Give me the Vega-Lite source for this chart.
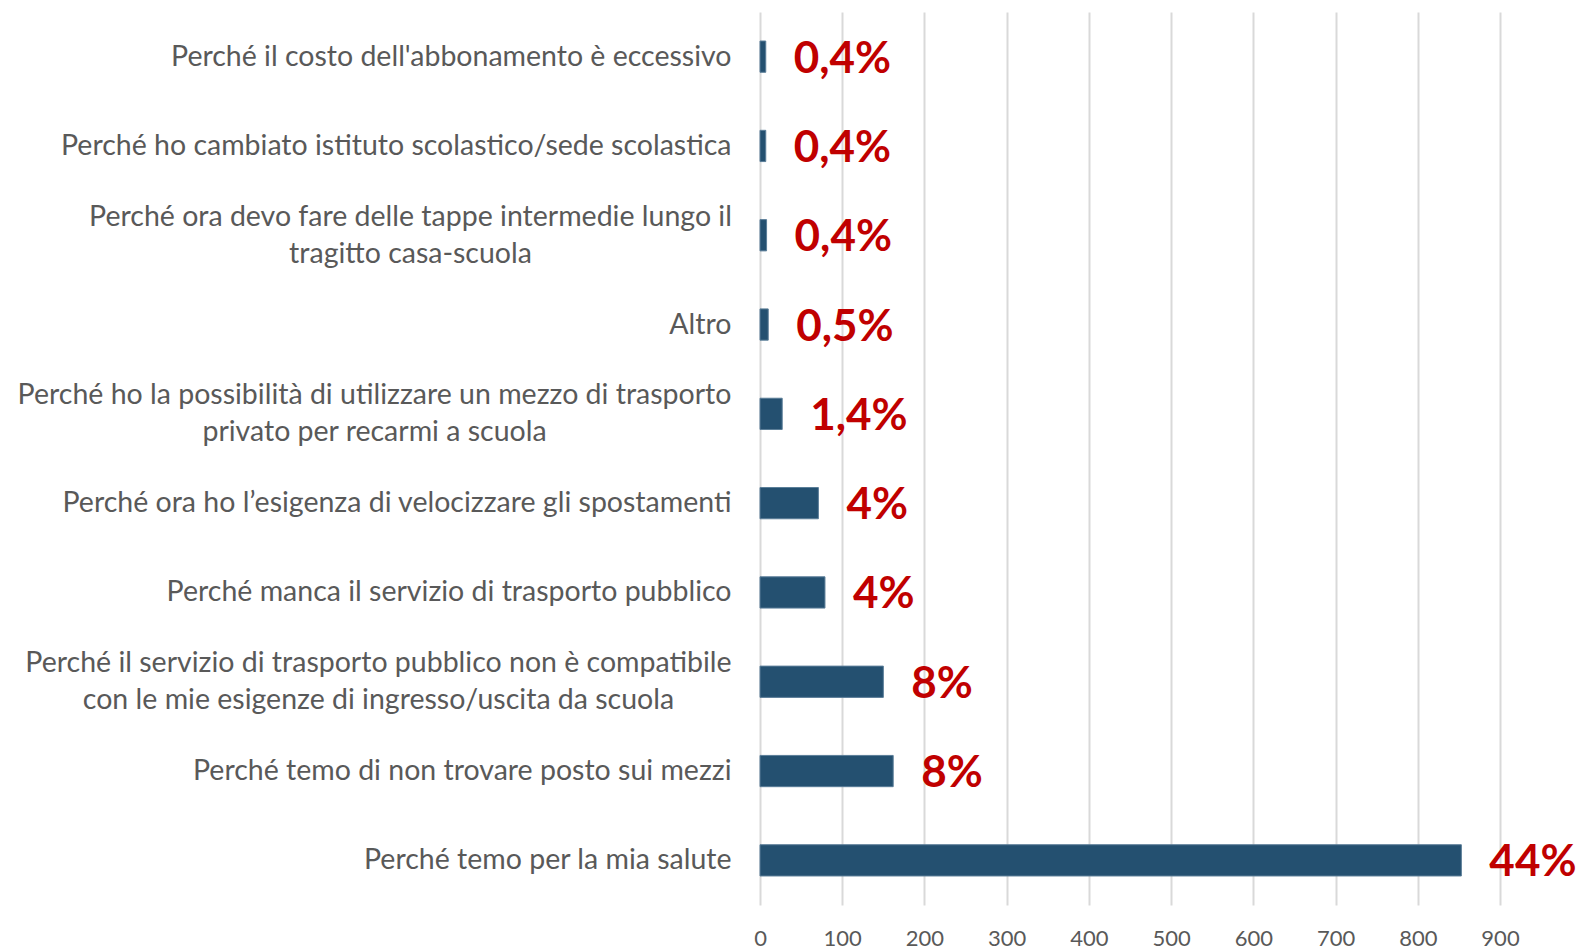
{
  "$schema": "https://vega.github.io/schema/vega-lite/v6.json",
  "width": 740,
  "height": 893,
  "autosize": {"type": "none"},
  "padding": {"left": 760, "top": 12, "right": 78, "bottom": 45},
  "background": "white",
  "config": {"view": {"stroke": null}},
  "data": {
    "values": [
      {"cat": "Perché il costo dell'abbonamento è eccessivo", "value": 7, "pct": "0,4%"},
      {"cat": "Perché ho cambiato istituto scolastico/sede scolastica", "value": 7, "pct": "0,4%"},
      {"cat": "Perché ora devo fare delle tappe intermedie lungo il|tragitto casa-scuola", "value": 8, "pct": "0,4%"},
      {"cat": "Altro", "value": 10, "pct": "0,5%"},
      {"cat": "Perché ho la possibilità di utilizzare un mezzo di trasporto|privato per recarmi a scuola", "value": 27, "pct": "1,4%"},
      {"cat": "Perché ora ho l’esigenza di velocizzare gli spostamenti", "value": 71, "pct": "4%"},
      {"cat": "Perché manca il servizio di trasporto pubblico", "value": 79, "pct": "4%"},
      {"cat": "Perché il servizio di trasporto pubblico non è compatibile|con le mie esigenze di ingresso/uscita da scuola", "value": 150, "pct": "8%"},
      {"cat": "Perché temo di non trovare posto sui mezzi", "value": 162, "pct": "8%"},
      {"cat": "Perché temo per la mia salute", "value": 853, "pct": "44%"}
    ]
  },
  "encoding": {
    "y": {
      "field": "cat",
      "type": "nominal",
      "sort": null,
      "scale": {"paddingInner": 0.65, "paddingOuter": 0.325},
      "axis": {
        "title": null,
        "domain": false,
        "ticks": false,
        "labelExpr": "split(datum.value, '|')",
        "labelFont": "Lato",
        "labelFontSize": 28.5,
        "labelColor": "#595959",
        "labelPadding": {
          "condition": [
            {"test": "indexof(datum.value, 'tappe') >= 0", "value": 350},
            {"test": "indexof(datum.value, 'possibilit') >= 0", "value": 386},
            {"test": "indexof(datum.value, 'compatibile') >= 0", "value": 382}
          ],
          "value": 29
        },
        "labelAlign": {"condition": {"test": "indexof(datum.value, '|') >= 0", "value": "center"}, "value": "right"},
        "labelOffset": {"condition": {"test": "indexof(datum.value, '|') >= 0", "value": -18.5}, "value": 0},
        "labelLimit": 800,
        "labelLineHeight": 37
      }
    },
    "x": {
      "field": "value",
      "type": "quantitative",
      "scale": {"domain": [0, 900], "nice": false},
      "axis": {
        "title": null,
        "values": [0, 100, 200, 300, 400, 500, 600, 700, 800, 900],
        "domain": false,
        "ticks": false,
        "grid": true,
        "gridColor": "#d9d9d9",
        "gridWidth": 2,
        "labelFlush": false,
        "labelFont": "Lato",
        "labelFontSize": 22,
        "labelColor": "#595959",
        "labelPadding": 23
      }
    }
  },
  "layer": [
    {
      "mark": {"type": "bar", "color": "#245070", "stroke": "#5a7d98", "strokeWidth": 1}
    },
    {
      "mark": {"type": "text", "align": "left", "baseline": "middle", "dx": 28, "dy": 3, "font": "Lato", "fontWeight": "bold", "fontSize": 44, "color": "#c00000"},
      "encoding": {"text": {"field": "pct"}}
    }
  ]
}
